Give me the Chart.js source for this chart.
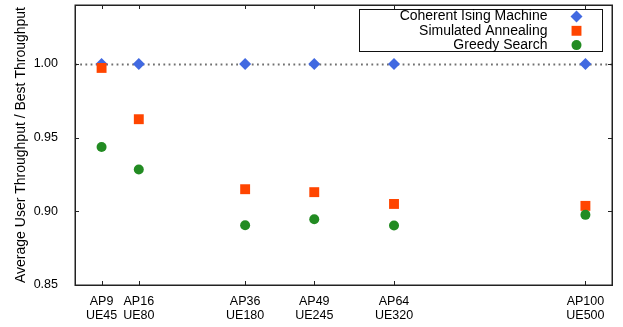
<!DOCTYPE html>
<html>
<head>
<meta charset="utf-8">
<script src="https://cdn.jsdelivr.net/npm/chart.js@4.4.1/dist/chart.umd.min.js"></script>
<style>
html,body{margin:0;padding:0;background:#fff;}
#wrap{width:623px;height:327px;position:relative;}
</style>
</head>
<body>
<div id="wrap"><canvas id="c" width="623" height="327"></canvas></div>
<script>
// ---- data ----
const apCounts = [9, 16, 36, 49, 64, 100];
const ueCounts = [45, 80, 180, 245, 320, 500];
const cimValues = [1.0, 1.0, 1.0, 1.0, 1.0, 1.0];
const saValues = [0.9973, 0.9625, 0.915, 0.913, 0.905, 0.9037];
const gsValues = [0.9437, 0.9284, 0.8906, 0.8946, 0.8904, 0.8976];
const yTickValues = [0.85, 0.90, 0.95, 1.00];
const seriesNames = ['Coherent Ising Machine', 'Simulated Annealing', 'Greedy Search'];
const referenceLevel = 1.0;

const FONT = 'Liberation Sans, Arial, Helvetica, sans-serif';
const FS = 12.5;
const FS_BIG = 14;

function pts(vals) { return apCounts.map((a, i) => ({ x: a, y: vals[i] })); }

const framePlugin = {
  id: 'frame',
  beforeDatasetsDraw(chart) {
    const { ctx, chartArea: a, scales } = chart;
    const y = Math.round(scales.y.getPixelForValue(referenceLevel)) + 0.5;
    ctx.save();
    ctx.strokeStyle = '#707070';
    ctx.lineWidth = 1.8;
    ctx.setLineDash([1.8, 3.4]);
    ctx.beginPath();
    ctx.moveTo(a.left, y);
    ctx.lineTo(a.right, y);
    ctx.stroke();
    ctx.restore();
  },
  afterDatasetsDraw(chart) {
    const { ctx, chartArea: a, scales } = chart;
    ctx.save();
    ctx.strokeStyle = '#222';
    ctx.lineWidth = 1;
    const L = 4;
    ctx.beginPath();
    scales.x.ticks.forEach(t => {
      const x = Math.round(scales.x.getPixelForValue(t.value)) + 0.5;
      ctx.moveTo(x, a.bottom); ctx.lineTo(x, a.bottom - L);
      ctx.moveTo(x, a.top); ctx.lineTo(x, a.top + L);
    });
    scales.y.ticks.forEach(t => {
      const y = Math.round(scales.y.getPixelForValue(t.value)) + 0.5;
      ctx.moveTo(a.left, y); ctx.lineTo(a.left + L, y);
      ctx.moveTo(a.right, y); ctx.lineTo(a.right - L, y);
    });
    ctx.stroke();
    // legend box
    const bx = Math.round(a.right - 253) + 0.5, by = Math.round(a.top + 4) + 0.5;
    const bw = 243, bh = 42;
    ctx.fillStyle = '#fff';
    ctx.fillRect(bx, by, bw, bh);
    ctx.strokeStyle = '#111';
    ctx.lineWidth = 1;
    ctx.strokeRect(bx, by, bw, bh);
    ctx.font = FS_BIG + 'px ' + FONT;
    ctx.textAlign = 'right';
    ctx.textBaseline = 'middle';
    chart.data.datasets.forEach((ds, i) => {
      const ry = by + 7 + i * 14.3;
      ctx.fillStyle = '#000';
      ctx.fillText(ds.label, bx + 188, ry);
      ctx.fillStyle = ds.backgroundColor;
      Chart.helpers.drawPoint(ctx, {
        pointStyle: ds.pointStyle, radius: ds.pointRadius, rotation: 0, borderWidth: 0
      }, bx + 217, ry);
    });
    ctx.restore();
  },
  afterDraw(chart) {
    const { ctx, chartArea: a } = chart;
    ctx.save();
    ctx.strokeStyle = '#222';
    ctx.lineWidth = 1.5;
    ctx.strokeRect(Math.round(a.left) + 0.25, Math.round(a.top) + 0.25, Math.round(a.right - a.left), Math.round(a.bottom - a.top));
    ctx.restore();
  }
};

const colors = ['#4169e1', '#ff4500', '#228b22'];
const styles = ['rectRot', 'rect', 'circle'];
const radii = [6, 7, 5];
const valueSets = [cimValues, saValues, gsValues];

const datasets = seriesNames.map((name, i) => ({
  label: name,
  data: pts(valueSets[i]),
  showLine: false,
  pointStyle: styles[i],
  pointRadius: radii[i],
  pointHoverRadius: radii[i],
  backgroundColor: colors[i],
  borderColor: colors[i],
  pointBorderWidth: 0,
  order: 3 - i
}));

function zeroPad(s) { s.paddingTop = 0; s.paddingBottom = 0; s.paddingLeft = 0; s.paddingRight = 0; }

new Chart(document.getElementById('c'), {
  type: 'scatter',
  data: { datasets },
  options: {
    responsive: false,
    animation: false,
    devicePixelRatio: 1,
    layout: { autoPadding: false, padding: { top: 5, right: 11, left: 0, bottom: 0 } },
    plugins: { legend: { display: false }, tooltip: { enabled: false } },
    scales: {
      x: {
        type: 'linear', min: 4, max: 105,
        grid: { display: false, drawTicks: false },
        border: { display: false },
        afterBuildTicks(s) { s.ticks = apCounts.map(v => ({ value: v })); },
        afterFit(s) { s.height = 42; zeroPad(s); },
        ticks: {
          color: '#000', padding: 9, maxRotation: 0, autoSkip: false,
          font: { family: FONT, size: FS, lineHeight: 1.15 },
          callback(v) { const i = apCounts.indexOf(v); return i < 0 ? '' : ['AP' + apCounts[i], 'UE' + ueCounts[i]]; }
        }
      },
      y: {
        type: 'linear', min: 0.85, max: 1.04,
        grid: { display: false, drawTicks: false },
        border: { display: false },
        afterBuildTicks(s) { s.ticks = yTickValues.map(v => ({ value: v })); },
        afterFit(s) { s.width = 75; zeroPad(s); },
        title: {
          display: true, text: 'Average User Throughput / Best Throughput',
          color: '#000', font: { family: FONT, size: FS_BIG }, padding: { top: 13, bottom: 0 }
        },
        ticks: {
          color: '#000', padding: 17,
          font: { family: FONT, size: FS },
          callback(v) { return v.toFixed(2); }
        }
      }
    }
  },
  plugins: [framePlugin]
});
</script>
</body>
</html>
